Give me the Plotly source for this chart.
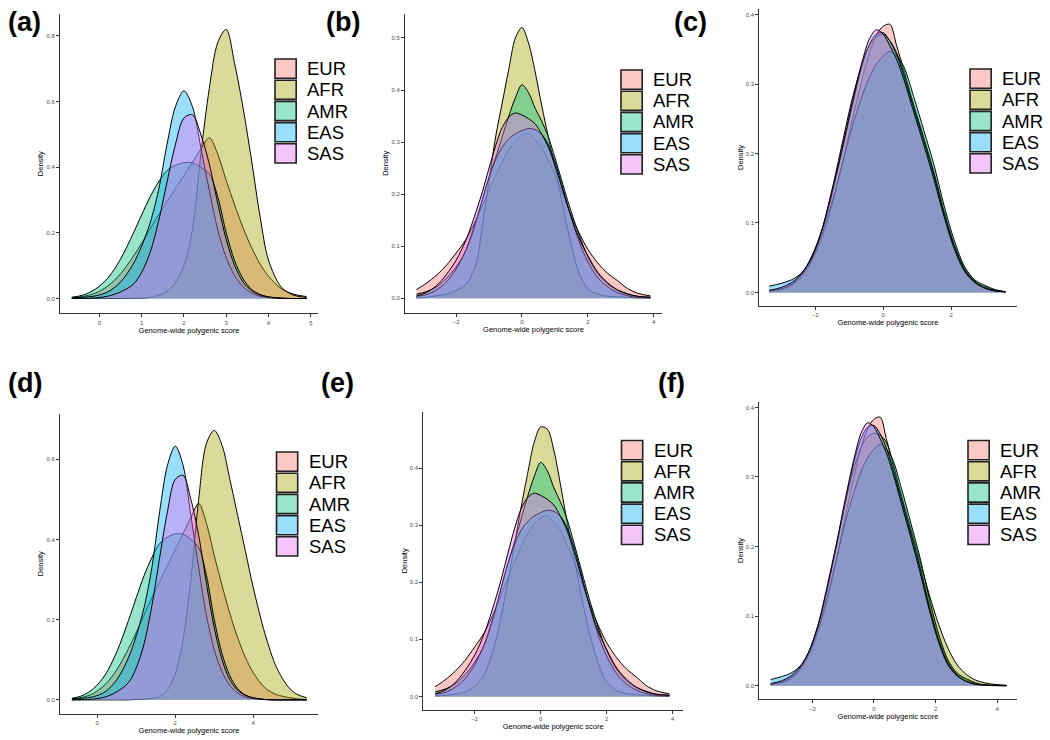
import plotly.graph_objects as go

W, H = 1050, 740

GROUPS = ["EUR", "AFR", "AMR", "EAS", "SAS"]
COLORS = ["#F8766D", "#A3A500", "#00BF7D", "#00B0F6", "#E76BF3"]

# ---- panel (a) ----
X_A = [-0.65, -0.4, -0.1, 0.2, 0.5, 0.8, 1.0, 1.2, 1.4, 1.6, 1.8, 2.0, 2.2,
       2.4, 2.6, 2.8, 3.0, 3.2, 3.4, 3.6, 3.8, 4.0, 4.3, 4.6, 4.9]
A_EUR = [0.002, 0.006, 0.016, 0.038, 0.075, 0.128, 0.168, 0.212, 0.255, 0.295, 0.335, 0.375, 0.415,
         0.455, 0.49, 0.44, 0.36, 0.285, 0.215, 0.155, 0.105, 0.068, 0.03, 0.013, 0.006]
A_AFR = [0.0, 0.0, 0.0, 0.0, 0.0, 0.001, 0.001, 0.003, 0.01, 0.022, 0.05, 0.1, 0.21,
         0.44, 0.64, 0.78, 0.82, 0.715, 0.58, 0.42, 0.25, 0.117, 0.035, 0.01, 0.003]
A_AMR = [0.004, 0.01, 0.028, 0.062, 0.12, 0.198, 0.255, 0.31, 0.355, 0.39, 0.406, 0.414, 0.413,
         0.4, 0.38, 0.31, 0.2, 0.115, 0.06, 0.028, 0.012, 0.005, 0.001, 0.0, 0.0]
A_EAS = [0.002, 0.004, 0.008, 0.02, 0.05, 0.105, 0.16, 0.23, 0.33, 0.47, 0.585, 0.633, 0.585,
         0.46, 0.33, 0.21, 0.125, 0.07, 0.036, 0.017, 0.007, 0.003, 0.0007, 0.0, 0.0]
A_SAS = [0.0, 0.0005, 0.002, 0.007, 0.02, 0.043, 0.08, 0.14, 0.235, 0.355, 0.47, 0.55, 0.56,
         0.5, 0.41, 0.29, 0.18, 0.1, 0.05, 0.024, 0.011, 0.005, 0.001, 0.0, 0.0]

# ---- panel (d): same EUR/AMR/EAS/SAS, wider AFR, longer x range ----
X_D = X_A + [5.1, 5.37]
D_EUR = A_EUR + [0.003, 0.001]
D_AFR = [0.0, 0.0, 0.0, 0.0, 0.0, 0.0, 0.001, 0.002, 0.004, 0.008, 0.025, 0.065, 0.15,
         0.3, 0.5, 0.64, 0.672, 0.635, 0.55, 0.46, 0.37, 0.28, 0.165, 0.08, 0.032, 0.015, 0.005]
D_AMR = A_AMR + [0.0, 0.0]
D_EAS = A_EAS + [0.0, 0.0]
D_SAS = A_SAS + [0.0, 0.0]

# ---- panel (b) ----
X_B = [-3.2, -2.9, -2.6, -2.3, -2.0, -1.7, -1.4, -1.2, -1.0, -0.8, -0.6, -0.4, -0.2, 0.0, 0.2,
       0.4, 0.6, 0.8, 1.0, 1.2, 1.4, 1.7, 2.0, 2.3, 2.6, 2.9, 3.2, 3.5, 3.9]
B_EUR = [0.017, 0.029, 0.044, 0.063, 0.087, 0.113, 0.15, 0.178, 0.207, 0.236, 0.262, 0.285, 0.302, 0.313, 0.316,
         0.305, 0.29, 0.265, 0.238, 0.207, 0.173, 0.13, 0.094, 0.068, 0.048, 0.034, 0.019, 0.01, 0.0045]
B_AFR = [0.001, 0.002, 0.005, 0.008, 0.015, 0.027, 0.065, 0.14, 0.225, 0.31, 0.375, 0.44, 0.5, 0.52, 0.49,
         0.435, 0.37, 0.31, 0.25, 0.19, 0.13, 0.055, 0.018, 0.008, 0.004, 0.003, 0.002, 0.001, 0.001]
B_AMR = [0.008, 0.013, 0.022, 0.038, 0.06, 0.092, 0.145, 0.19, 0.232, 0.27, 0.31, 0.35, 0.385, 0.41, 0.395,
         0.365, 0.34, 0.31, 0.27, 0.228, 0.185, 0.128, 0.08, 0.048, 0.028, 0.016, 0.009, 0.004, 0.002]
B_EAS = [0.004, 0.007, 0.016, 0.031, 0.056, 0.093, 0.148, 0.19, 0.232, 0.266, 0.29, 0.306, 0.316, 0.322, 0.326,
         0.324, 0.315, 0.295, 0.262, 0.22, 0.175, 0.115, 0.07, 0.04, 0.022, 0.011, 0.005, 0.002, 0.001]
B_SAS = [0.0045, 0.011, 0.024, 0.045, 0.073, 0.112, 0.165, 0.205, 0.25, 0.293, 0.328, 0.348, 0.356, 0.352, 0.345,
         0.335, 0.315, 0.29, 0.255, 0.215, 0.175, 0.12, 0.082, 0.05, 0.03, 0.016, 0.008, 0.004, 0.002]

# ---- panel (e): same as (b) except AFR ----
X_E = X_B
E_EUR = B_EUR
E_AFR = [0.001, 0.002, 0.004, 0.008, 0.018, 0.04, 0.09, 0.14, 0.2, 0.265, 0.33, 0.39, 0.445, 0.472, 0.468,
         0.43, 0.37, 0.305, 0.245, 0.185, 0.13, 0.065, 0.025, 0.01, 0.005, 0.003, 0.002, 0.001, 0.001]
E_AMR = B_AMR
E_EAS = B_EAS
E_SAS = B_SAS

# ---- panel (c) ----
X_C = [-3.35, -3.0, -2.7, -2.4, -2.1, -1.8, -1.5, -1.2, -0.9, -0.6, -0.4, -0.2, 0.0,
       0.2, 0.4, 0.6, 0.9, 1.2, 1.5, 1.8, 2.1, 2.4, 2.7, 3.0, 3.3, 3.6]
C_EUR = [0.0015, 0.004, 0.01, 0.022, 0.044, 0.078, 0.125, 0.185, 0.25, 0.31, 0.345, 0.37, 0.383,
         0.386, 0.355, 0.322, 0.27, 0.222, 0.172, 0.116, 0.068, 0.034, 0.016, 0.008, 0.003, 0.001]
C_AFR = [0.002, 0.005, 0.012, 0.026, 0.052, 0.09, 0.148, 0.215, 0.28, 0.332, 0.356, 0.368, 0.372,
         0.362, 0.345, 0.318, 0.27, 0.222, 0.172, 0.115, 0.067, 0.034, 0.016, 0.007, 0.003, 0.001]
C_AMR = [0.002, 0.005, 0.011, 0.024, 0.047, 0.083, 0.13, 0.185, 0.24, 0.285, 0.31, 0.328, 0.34,
         0.347, 0.34, 0.326, 0.282, 0.233, 0.183, 0.124, 0.074, 0.037, 0.018, 0.01, 0.004, 0.001]
C_EAS = [0.009, 0.013, 0.018, 0.028, 0.05, 0.088, 0.142, 0.205, 0.27, 0.33, 0.357, 0.372, 0.374,
         0.362, 0.342, 0.314, 0.266, 0.218, 0.168, 0.112, 0.065, 0.032, 0.015, 0.006, 0.002, 0.001]
C_SAS = [0.003, 0.007, 0.014, 0.027, 0.05, 0.09, 0.147, 0.208, 0.275, 0.335, 0.365, 0.378, 0.372,
         0.355, 0.335, 0.308, 0.26, 0.212, 0.162, 0.108, 0.062, 0.03, 0.014, 0.006, 0.002, 0.0008]

# ---- panel (f): same as (c) except AFR, longer x range ----
X_F = X_C + [3.9, 4.3]
F_EUR = C_EUR + [0.0005, 0.0001]
F_AFR = [0.002, 0.005, 0.012, 0.025, 0.05, 0.088, 0.142, 0.205, 0.27, 0.32, 0.345, 0.358, 0.363,
         0.36, 0.35, 0.322, 0.272, 0.225, 0.178, 0.13, 0.088, 0.054, 0.03, 0.016, 0.008, 0.004, 0.002, 0.0007]
F_AMR = C_AMR + [0.0005, 0.0001]
F_EAS = C_EAS + [0.0004, 0.0001]
F_SAS = C_SAS + [0.0001, 0.0]

# tick values per panel
XT_A = [0, 1, 2, 3, 4, 5]
YT_A = [0.0, 0.2, 0.4, 0.6, 0.8]
XT_B = [-2, 0, 2, 4]
YT_B = [0.0, 0.1, 0.2, 0.3, 0.4, 0.5]
XT_C = [-2, 0, 2]
YT_C = [0.0, 0.1, 0.2, 0.3, 0.4]
XT_D = [0, 2, 4]
YT_D = [0.0, 0.2, 0.4, 0.6]
XT_E = [-2, 0, 2, 4]
YT_E = [0.0, 0.1, 0.2, 0.3, 0.4]
XT_F = [-2, 0, 2, 4]
YT_F = [0.0, 0.1, 0.2, 0.3, 0.4]

FONT = "Liberation Sans, Arial, Helvetica, sans-serif"


def rgba(hex_color, a):
    h = hex_color.lstrip("#")
    return f"rgba({int(h[0:2], 16)},{int(h[2:4], 16)},{int(h[4:6], 16)},{a})"


# box = (left, top, right, bottom) of the plotting area in pixels
panels = [
    dict(label="(a)", x=X_A, ys=[A_EUR, A_AFR, A_AMR, A_EAS, A_SAS], box=(60, 14, 318, 313.3),
         xr=[-0.93, 5.17], yr=[-0.045, 0.867], xt=XT_A, yt=YT_A, lab=(6, 22), leg=(275, 58)),
    dict(label="(b)", x=X_B, ys=[B_EUR, B_AFR, B_AMR, B_EAS, B_SAS], box=(405, 14, 662, 312.7),
         xr=[-3.55, 4.25], yr=[-0.0276, 0.546], xt=XT_B, yt=YT_B, lab=(324, 22), leg=(621, 69)),
    dict(label="(c)", x=X_C, ys=[C_EUR, C_AFR, C_AMR, C_EAS, C_SAS], box=(759.3, 9, 1016.7, 306),
         xr=[-3.64, 3.93], yr=[-0.0195, 0.408], xt=XT_C, yt=YT_C, lab=(672, 22), leg=(970, 68)),
    dict(label="(d)", x=X_D, ys=[D_EUR, D_AFR, D_AMR, D_EAS, D_SAS], box=(60, 414, 318, 713.5),
         xr=[-0.956, 5.66], yr=[-0.034, 0.713], xt=XT_D, yt=YT_D, lab=(6, 383), leg=(276.5, 451)),
    dict(label="(e)", x=X_E, ys=[E_EUR, E_AFR, E_AMR, E_EAS, E_SAS], box=(423.3, 411.5, 683, 710.2),
         xr=[-3.56, 4.31], yr=[-0.024, 0.499], xt=XT_E, yt=YT_E, lab=(319, 383), leg=(621.5, 439.5)),
    dict(label="(f)", x=X_F, ys=[F_EUR, F_AFR, F_AMR, F_EAS, F_SAS], box=(759.3, 401.5, 1016.7, 699.3),
         xr=[-3.72, 4.63], yr=[-0.0195, 0.4085], xt=XT_F, yt=YT_F, lab=(656, 383), leg=(968, 439.5)),
]

fig = go.Figure()
shapes = []
annotations = []
KEY = 21.2

for i, p in enumerate(panels, start=1):
    sfx = "" if i == 1 else str(i)
    for g, c, y in zip(GROUPS, COLORS, p["ys"]):
        fig.add_trace(go.Scatter(
            x=p["x"], y=y, mode="lines", name=g, showlegend=False, hoverinfo="skip",
            line=dict(color="black", width=1, shape="spline", smoothing=0.9),
            fill="tozeroy", fillcolor=rgba(c, 0.4),
            xaxis="x" + sfx, yaxis="y" + sfx,
        ))
    left, top, right, bottom = p["box"]
    common = dict(showline=True, linecolor="#333333", linewidth=1, ticks="outside", ticklen=3,
                  tickcolor="#333333", tickwidth=1, showgrid=False, zeroline=False,
                  tickfont=dict(size=6, color="#4D4D4D", family=FONT))
    fig.layout["xaxis" + sfx] = dict(
        domain=[left / W, right / W], anchor="y" + sfx, range=p["xr"], tickvals=p["xt"],
        title=dict(text="Genome-wide polygenic score", font=dict(size=7.5, color="black", family=FONT), standoff=0),
        **common)
    fig.layout["yaxis" + sfx] = dict(
        domain=[1 - bottom / H, 1 - top / H], anchor="x" + sfx, range=p["yr"], tickvals=p["yt"],
        tickformat=".1f",
        title=dict(text="Density", font=dict(size=7.5, color="black", family=FONT), standoff=1),
        **common)

    # panel tag
    lx, ly = p["lab"]
    annotations.append(dict(text="<b>" + p["label"] + "</b>", x=lx / W, y=1 - ly / H, xref="paper", yref="paper",
                            xanchor="left", yanchor="middle", showarrow=False,
                            font=dict(size=27, color="black", family=FONT)))

    # legend keys, drawn ggplot style
    kx, ky = p["leg"]
    for j, (g, c) in enumerate(zip(GROUPS, COLORS)):
        y0 = ky + j * KEY
        shapes.append(dict(type="rect", xref="paper", yref="paper",
                           x0=kx / W, x1=(kx + KEY) / W, y0=1 - (y0 + KEY - 1) / H, y1=1 - (y0 + 1) / H,
                           fillcolor=rgba(c, 0.4), line=dict(color="#222222", width=1.6)))
        annotations.append(dict(text=g, x=(kx + KEY + 9) / W, y=1 - (y0 + KEY / 2) / H,
                                xref="paper", yref="paper", xanchor="left", yanchor="middle",
                                showarrow=False, font=dict(size=18.5, color="black", family=FONT)))

fig.update_layout(
    width=W, height=H, margin=dict(l=0, r=0, t=0, b=0),
    paper_bgcolor="white", plot_bgcolor="white",
    font=dict(family=FONT), showlegend=False,
    shapes=shapes, annotations=annotations,
)

fig.write_html("out.html", config={"displayModeBar": False},
               post_script="document.body.style.margin='0px';")
